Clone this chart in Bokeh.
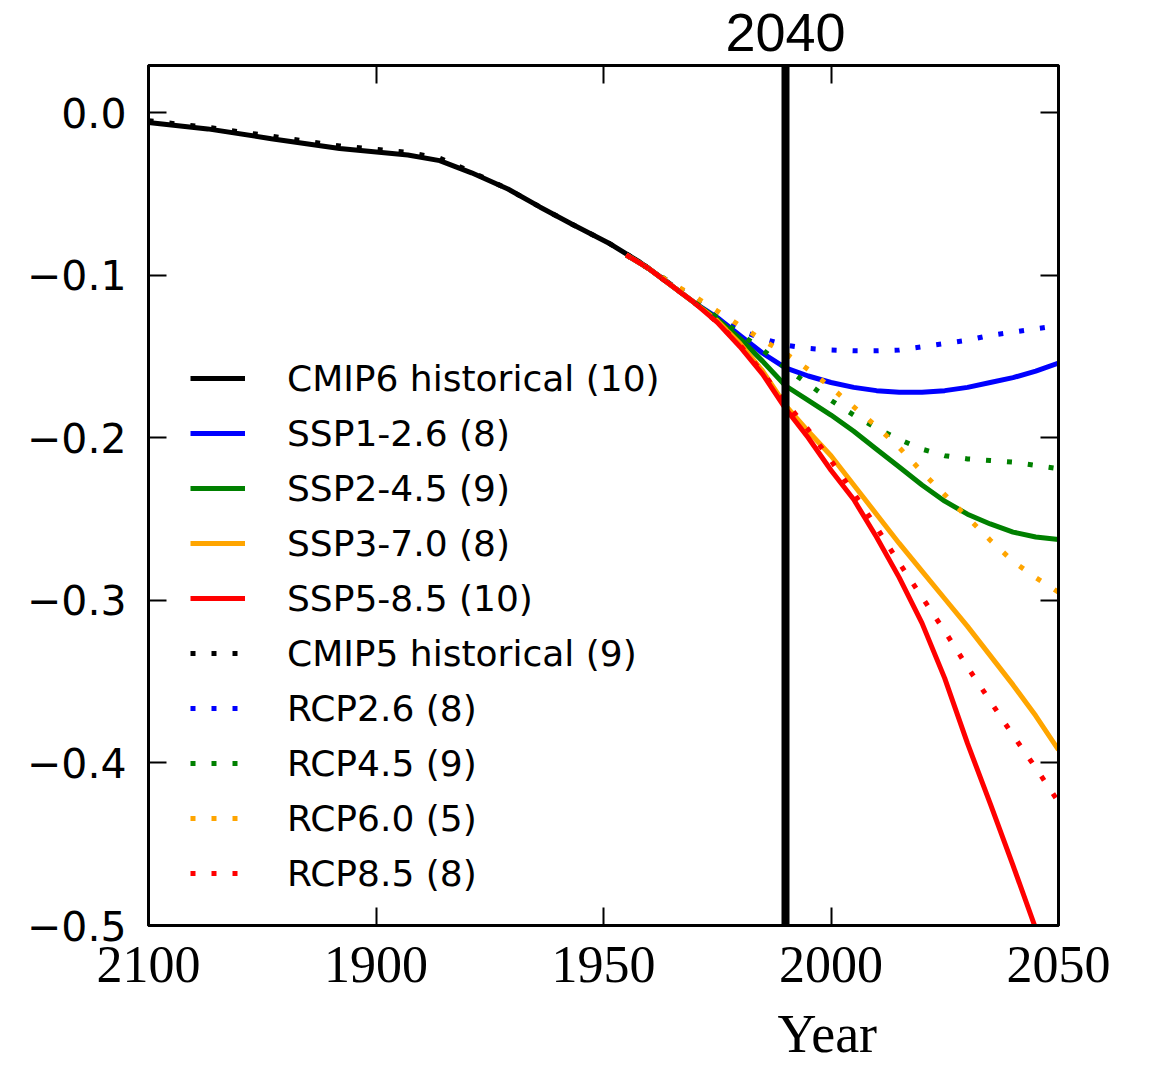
from bokeh.plotting import figure
from bokeh.models import (Range1d, LinearAxis, FixedTicker, Legend, LegendItem, Span)
from bokeh.embed import file_html
from bokeh.resources import INLINE

# ---------------- data ----------------
hist6_years = [1850, 1863, 1877, 1892, 1907, 1914, 1921, 1929, 1936, 1943, 1951, 1958, 1965]
hist6_vals = [-0.006, -0.010, -0.016, -0.022, -0.026, -0.0295, -0.037, -0.047, -0.058,
              -0.0685, -0.080, -0.092, -0.106]

hist5_years = [1850, 1863, 1877, 1892, 1907, 1914, 1921, 1929, 1936, 1943, 1951, 1958, 1965]
hist5_vals = [-0.005, -0.009, -0.0145, -0.0205, -0.0245, -0.028, -0.0365, -0.047, -0.058,
              -0.0685, -0.080, -0.092, -0.106]

scen_years = [1955, 1960, 1965, 1970, 1975, 1980, 1985, 1990, 1995, 2000, 2005, 2010,
              2015, 2020, 2025, 2030, 2035, 2040, 2045, 2050]

ssp126 = [-0.0875, -0.096, -0.1065, -0.117, -0.126, -0.137, -0.148, -0.157, -0.162, -0.166,
          -0.169, -0.171, -0.172, -0.172, -0.171, -0.169, -0.166, -0.163, -0.159, -0.154]
ssp245 = [-0.0875, -0.096, -0.1065, -0.117, -0.127, -0.139, -0.153, -0.168, -0.177, -0.186,
          -0.196, -0.207, -0.218, -0.229, -0.239, -0.247, -0.253, -0.258, -0.261, -0.2625]
ssp370 = [-0.0875, -0.096, -0.1065, -0.117, -0.128, -0.142, -0.159, -0.180, -0.196, -0.211,
          -0.229, -0.247, -0.265, -0.282, -0.299, -0.316, -0.334, -0.352, -0.371, -0.392]
ssp585 = [-0.0875, -0.096, -0.1065, -0.117, -0.129, -0.144, -0.161, -0.182, -0.200, -0.220,
          -0.238, -0.261, -0.286, -0.314, -0.348, -0.388, -0.425, -0.463, -0.502, -0.540]

rcp26 = [-0.0875, -0.096, -0.105, -0.115, -0.126, -0.134, -0.139, -0.143, -0.145, -0.146,
         -0.1465, -0.1465, -0.146, -0.144, -0.142, -0.140, -0.137, -0.135, -0.133, -0.131]
rcp45 = [-0.0875, -0.096, -0.105, -0.116, -0.126, -0.136, -0.146, -0.157, -0.167, -0.177,
         -0.186, -0.194, -0.201, -0.207, -0.211, -0.213, -0.214, -0.215, -0.217, -0.219]
rcp60 = [-0.0875, -0.096, -0.105, -0.113, -0.122, -0.131, -0.140, -0.148, -0.158, -0.169,
         -0.181, -0.193, -0.206, -0.221, -0.235, -0.249, -0.263, -0.276, -0.286, -0.295]
rcp85 = [-0.0875, -0.096, -0.1065, -0.117, -0.129, -0.143, -0.160, -0.178, -0.195, -0.214,
         -0.234, -0.255, -0.277, -0.298, -0.319, -0.341, -0.362, -0.383, -0.403, -0.424]

legend_labels = ["CMIP6 historical (10)", "SSP1-2.6 (8)", "SSP2-4.5 (9)", "SSP3-7.0 (8)",
                 "SSP5-8.5 (10)", "CMIP5 historical (9)", "RCP2.6 (8)", "RCP4.5 (9)",
                 "RCP6.0 (5)", "RCP8.5 (8)"]

x_ticks = [1850, 1900, 1950, 2000, 2050]
x_tick_labels = ["2100", "1900", "1950", "2000", "2050"]
y_ticks = [0.0, -0.1, -0.2, -0.3, -0.4, -0.5]
y_tick_labels = ["0.0", "\u22120.1", "\u22120.2", "\u22120.3", "\u22120.4", "\u22120.5"]

marker_year = 1990.0
marker_text = "2040"
x_label = "Year"
x_label_year = 1999.2

# ---------------- figure ----------------
W, H = 1152, 1067
p = figure(width=W, height=H, output_backend="svg", toolbar_location=None,
           x_range=Range1d(1850, 2050), y_range=Range1d(-0.5, 0.029),
           x_axis_location=None, y_axis_location=None,
           min_border_left=148, min_border_right=94, min_border_top=65,
           min_border_bottom=142)
p.grid.visible = False
p.outline_line_color = "black"
p.outline_line_width = 3
p.background_fill_color = "white"
p.border_fill_color = "white"


def style_axis(ax, ticks, labels):
    ax.ticker = FixedTicker(ticks=ticks)
    ax.major_label_overrides = dict(zip(ticks, labels))
    ax.major_tick_in = 18
    ax.major_tick_out = 0
    ax.major_tick_line_width = 2
    ax.minor_tick_line_color = None
    ax.axis_line_width = 3


def text_axis(tick, text, font, size, standoff):
    ax = LinearAxis(ticker=FixedTicker(ticks=[tick]),
                    major_label_overrides={tick: text},
                    major_tick_line_color=None, minor_tick_line_color=None,
                    axis_line_color=None, major_label_standoff=standoff,
                    major_label_text_font=font, major_label_text_font_size=size,
                    major_label_text_color="black")
    return ax


bottom = LinearAxis()
style_axis(bottom, x_ticks, x_tick_labels)
bottom.major_label_text_font = "Liberation Serif"
bottom.major_label_text_font_size = "52px"
bottom.major_label_text_color = "black"
bottom.major_label_standoff = 21
p.add_layout(bottom, "below")
# x-axis title, placed where the reference shows it
p.add_layout(text_axis(x_label_year, x_label, "Liberation Serif", "54px", 13), "below")

top = LinearAxis()
style_axis(top, x_ticks, ["" for _ in x_ticks])
top.major_label_standoff = 0
p.add_layout(top, "above")
# "2040" marker caption above the frame
p.add_layout(text_axis(marker_year, marker_text, "Liberation Sans", "54px", 9), "above")

left = LinearAxis()
style_axis(left, y_ticks, y_tick_labels)
left.major_label_text_font = "DejaVu Sans"
left.major_label_text_font_size = "41px"
left.major_label_text_color = "black"
left.major_label_standoff = 22
p.add_layout(left, "left")

right = LinearAxis()
style_axis(right, y_ticks, ["" for _ in y_ticks])
right.major_label_standoff = 0
p.add_layout(right, "right")

# ---------------- lines ----------------
LW = 5
DOT = "5 16"
r_h6 = p.line(hist6_years, hist6_vals, line_color="black", line_width=LW)
r_s1 = p.line(scen_years, ssp126, line_color="#0000ff", line_width=LW)
r_s2 = p.line(scen_years, ssp245, line_color="#008000", line_width=LW)
r_s3 = p.line(scen_years, ssp370, line_color="#ffa500", line_width=LW)
r_s5 = p.line(scen_years, ssp585, line_color="#ff0000", line_width=LW)
r_h5 = p.line(hist5_years, hist5_vals, line_color="black", line_width=LW, line_dash=DOT)
r_r2 = p.line(scen_years, rcp26, line_color="#0000ff", line_width=LW, line_dash=DOT)
r_r4 = p.line(scen_years, rcp45, line_color="#008000", line_width=LW, line_dash=DOT)
r_r6 = p.line(scen_years, rcp60, line_color="#ffa500", line_width=LW, line_dash=DOT)
r_r8 = p.line(scen_years, rcp85, line_color="#ff0000", line_width=LW, line_dash=DOT)

renderers = [r_h6, r_s1, r_s2, r_s3, r_s5, r_h5, r_r2, r_r4, r_r6, r_r8]
legend = Legend(items=[LegendItem(label=l, renderers=[r]) for l, r in zip(legend_labels, renderers)],
                location=(42, 31), padding=0, margin=0, spacing=13,
                glyph_width=55, glyph_height=42, label_height=42, label_standoff=42,
                label_text_font="DejaVu Sans", label_text_font_size="36px",
                label_text_color="black",
                border_line_color=None, background_fill_alpha=0)
p.add_layout(legend)

# ---------------- marker line ----------------
p.add_layout(Span(location=marker_year, dimension="height", line_color="black", line_width=8))

open("out.html", "w").write(file_html(p, INLINE))
